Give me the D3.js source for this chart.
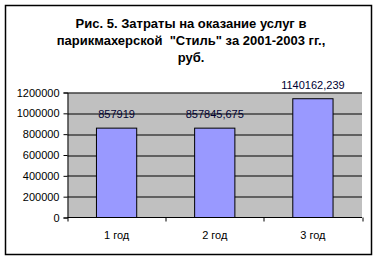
<!DOCTYPE html>
<html>
<head>
<meta charset="utf-8">
<script src="https://cdn.jsdelivr.net/npm/d3@7"></script>
<style>
  body { margin: 0; background: #fff; }
  svg { display: block; font-family: Arial, "Liberation Sans", sans-serif; }
</style>
</head>
<body>
<svg id="chart" width="378" height="261"></svg>
<script>
var categories = ["1 год", "2 год", "3 год"];
var values = [857919, 857845.675, 1140162.239];
var valueLabels = ["857919", "857845,675", "1140162,239"];
var yTicks = [0, 200000, 400000, 600000, 800000, 1000000, 1200000];
var titleLines = ["Рис. 5. Затраты на оказание услуг в",
                  "парикмахерской  \"Стиль\" за 2001-2003 гг.,",
                  "руб."];

var svg = d3.select("#chart");
var margin = {left: 67.5, right: 16, top: 92.5, bottom: 43.5};
var w = 378 - margin.left - margin.right;
var h = 261 - margin.top - margin.bottom;

// outer frame
svg.append("rect")
  .attr("x", 5.5).attr("y", 5.5)
  .attr("width", 366).attr("height", 249)
  .attr("fill", "#fff").attr("stroke", "#000").attr("stroke-width", 1.5);

// title
svg.append("g").selectAll("text")
  .data(titleLines)
  .enter().append("text")
  .attr("x", 191)
  .attr("y", (d, i) => 28 + i * 17)
  .attr("text-anchor", "middle")
  .style("font-size", "13px")
  .style("font-weight", "bold")
  .style("white-space", "pre")
  .text(d => d);

var g = svg.append("g").attr("transform", "translate(" + margin.left + "," + margin.top + ")");

var x = d3.scaleBand().domain(categories).range([0, w]).paddingInner(0.59).paddingOuter(0.295);
var y = d3.scaleLinear().domain([0, 1200000]).range([h, 0]);

g.append("rect")
  .attr("width", w).attr("height", h)
  .attr("fill", "#c0c0c0");

// gridlines
g.selectAll(".grid")
  .data(yTicks.slice(1))
  .enter().append("line")
  .attr("x1", 0).attr("x2", w)
  .attr("y1", d => Math.round(y(d)) + 0.5).attr("y2", d => Math.round(y(d)) + 0.5)
  .attr("stroke", "#000");

// bars
g.selectAll(".bar")
  .data(values)
  .enter().append("rect")
  .attr("x", (d, i) => x(categories[i]))
  .attr("y", d => y(d))
  .attr("width", x.bandwidth())
  .attr("height", d => h - y(d))
  .attr("fill", "#9999ff")
  .attr("stroke", "#000");

// value labels
g.selectAll(".lbl")
  .data(values)
  .enter().append("text")
  .attr("x", (d, i) => x(categories[i]) + x.bandwidth() / 2)
  .attr("y", d => y(d) - 10)
  .attr("text-anchor", "middle")
  .attr("fill", "#000033")
  .style("font-size", "11px")
  .text((d, i) => valueLabels[i]);

// y axis
var yAxis = g.append("g")
  .call(d3.axisLeft(y).tickValues(yTicks).tickSize(4).tickPadding(4).tickFormat(d3.format("d")));
yAxis.select(".domain").attr("stroke", "#000");
yAxis.selectAll("text").style("font-size", "11px").attr("fill", "#000");

// x axis with ticks between categories
var xAxis = g.append("g").attr("transform", "translate(0," + h + ")");
xAxis.append("line").attr("x1", 0).attr("x2", w).attr("stroke", "#000");
var step = w / categories.length;
xAxis.selectAll(".xt")
  .data(d3.range(categories.length + 1))
  .enter().append("line")
  .attr("x1", d => Math.round(d * step) + 0.5).attr("x2", d => Math.round(d * step) + 0.5)
  .attr("y1", 0).attr("y2", 4)
  .attr("stroke", "#000");
xAxis.selectAll(".xl")
  .data(categories)
  .enter().append("text")
  .attr("x", d => x(d) + x.bandwidth() / 2)
  .attr("y", 21)
  .attr("text-anchor", "middle")
  .style("font-size", "11px")
  .text(d => d);
</script>
</body>
</html>
